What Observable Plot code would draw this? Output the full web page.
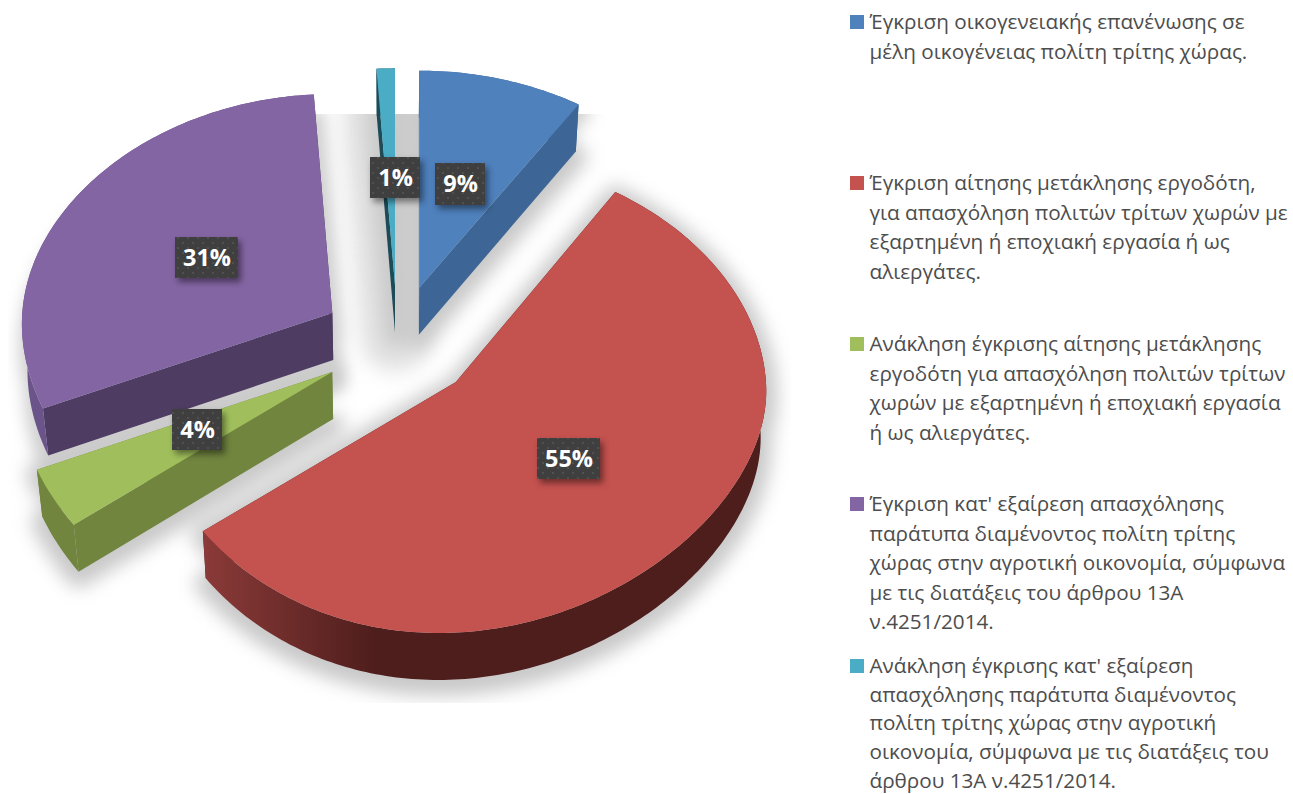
<!DOCTYPE html>
<html>
<head>
<meta charset="utf-8">
<script src="https://cdn.jsdelivr.net/npm/d3@7"></script>
<script src="https://cdn.jsdelivr.net/npm/@observablehq/plot@0.6"></script>
<style>html,body{margin:0;padding:0;background:#fff}svg{display:block}</style>
</head>
<body>
<div id="chart"></div>
<script>
// Data
const categories = [
  "Έγκριση οικογενειακής επανένωσης σε\nμέλη οικογένειας πολίτη τρίτης χώρας.",
  "Έγκριση αίτησης μετάκλησης εργοδότη,\nγια απασχόληση πολιτών τρίτων χωρών με\nεξαρτημένη ή εποχιακή εργασία ή ως\nαλιεργάτες.",
  "Ανάκληση έγκρισης αίτησης μετάκλησης\nεργοδότη για απασχόληση πολιτών τρίτων\nχωρών με εξαρτημένη ή εποχιακή εργασία\nή ως αλιεργάτες.",
  "Έγκριση κατ' εξαίρεση απασχόλησης\nπαράτυπα διαμένοντος πολίτη τρίτης\nχώρας στην αγροτική οικονομία, σύμφωνα\nμε τις διατάξεις του άρθρου 13Α\nν.4251/2014.",
  "Ανάκληση έγκρισης κατ' εξαίρεση\nαπασχόλησης παράτυπα διαμένοντος\nπολίτη τρίτης χώρας στην αγροτική\nοικονομία, σύμφωνα με τις διατάξεις του\nάρθρου 13Α ν.4251/2014."
];
const values = [9, 55, 4, 31, 1];

// Styles and layout
const faceColors = ["#4f81bd", "#c4524f", "#a0bf5c", "#8365a3", "#4bacc6"];
const sideColors = ["#3d6696", "#4e1e1c", "#71853f", "#4e3c62", "#1d4b57"];
const rimColors  = ["#3d6696", "url(#redRim)", "#71853f", "#6b5489", "#1d4b57"];
const explodeX   = [0.28, 0.262, 0.240, 0.235, 0];
const explodeY   = [0.262, 0.262, 0.240, 0.27, 0.262];
const radiusK    = [1, 1, 1.02, 1, 1];
const backB      = [217, 225, 217, 219, 217];
const swatchTop  = [15, 176, 337, 497, 659];
const textTop    = [8, 169, 330, 490, 652];
const labelCentre = [[460, 184], [568.5, 458.5], [197, 429.5], [206.5, 257.5], [395, 177.5]];
const labelSize   = [[50, 42], [63, 41], [50, 41], [63, 41], [50, 41]];

const W = 1293, H = 794;
const cx = 394.5, cy = 343, a = 310, bExplode = 222, bFront = 205, bCurve = 46,
      p = 0.048, depth = 47, skew = -17;

const project = (u, v, eu, ev, down, bBack) => {
  let x = cx + a * eu + a * u * (1 + p * v) + (v > 0 ? skew * v * v : 0);
  let y = cy + bExplode * ev + (v >= 0 ? v * (bFront + bCurve * v) : v * bBack);
  if (down) { x = cx + (x - cx) * 0.985; y += depth; }
  return [x, y];
};

const arcs = d3.pie().sort(null)(values);
const polys = [];
arcs.forEach((arc, i) => {
  const mid = (arc.startAngle + arc.endAngle) / 2;
  const eu = explodeX[i] * Math.sin(mid), ev = -explodeY[i] * Math.cos(mid);
  const n = Math.max(4, Math.ceil((arc.endAngle - arc.startAngle) * 60));
  const rim = d3.range(n + 1).map(k => {
    const t = arc.startAngle + (arc.endAngle - arc.startAngle) * k / n;
    return [radiusK[i] * Math.sin(t), -radiusK[i] * Math.cos(t)];
  });
  const top = ([u, v]) => project(u, v, eu, ev, false, backB[i]);
  const low = ([u, v]) => project(u, v, eu, ev, true, backB[i]);
  const centre = [0, 0];
  const add = (part, color, pts) => pts.forEach(([x, y], k) =>
    polys.push({id: `${part}-${i}`, part, color, x, y, k, slice: i}));
  const first = rim[0], last = rim[n];
  const wall1 = [top(centre), low(centre), low(first), top(first)];
  const wall2 = [top(centre), low(centre), low(last), top(last)];
  const rimWall = [...rim.map(top), ...rim.slice().reverse().map(low)];
  const face = [top(centre), ...rim.map(top)];
  add("shadow", "#c9c9c9", [low(centre), ...rim.map(low)]);
  add("shadow2", "#c9c9c9", face);
  add("wall1", sideColors[i], wall1);
  add("wall2", sideColors[i], wall2);
  add("rim", rimColors[i], rimWall);
  add("face", faceColors[i], face);
});
const layer = f => polys.filter(d => f(d.part));
const shadowRows = layer(p => p === "shadow" || p === "shadow2");

const labels = values.map((v, i) => ({
  text: `${v}%`,
  x: labelCentre[i][0], y: labelCentre[i][1],
  x1: labelCentre[i][0] - labelSize[i][0] / 2, x2: labelCentre[i][0] + labelSize[i][0] / 2,
  y1: labelCentre[i][1] - labelSize[i][1] / 2, y2: labelCentre[i][1] + labelSize[i][1] / 2
}));
const legend = categories.map((text, i) => ({
  text, color: faceColors[i], y: textTop[i], x1: 850, x2: 864, y1: swatchTop[i], y2: swatchTop[i] + 14
}));
const masks = [
  {x1: 0, x2: W, y1: 0, y2: 114},
  {x1: 0, x2: W, y1: 703, y2: H},
  {x1: 791, x2: W, y1: 0, y2: H},
  {x1: 0, x2: 8, y1: 0, y2: H}
];

const defs = () => {
  const g = d3.create("svg:defs");
  const lg = g.append("linearGradient").attr("id", "redRim")
    .attr("gradientUnits", "userSpaceOnUse")
    .attr("x1", 205).attr("x2", 375).attr("y1", 0).attr("y2", 0);
  lg.append("stop").attr("offset", "0").attr("stop-color", "#8a3a38");
  lg.append("stop").attr("offset", "1").attr("stop-color", "#4e1e1c");
  const pt = g.append("pattern").attr("id", "dots")
    .attr("patternUnits", "userSpaceOnUse").attr("width", 10).attr("height", 10);
  pt.append("rect").attr("width", 10).attr("height", 10).attr("fill", "#3f3f3f");
  pt.append("rect").attr("x", 2).attr("y", 2).attr("width", 2).attr("height", 2).attr("fill", "#505050");
  pt.append("rect").attr("x", 7).attr("y", 7).attr("width", 2).attr("height", 2).attr("fill", "#505050");
  return g.node();
};

const poly = (data, extra = {}) => Plot.line(data, {
  x: "x", y: "y", z: "id", fill: "color", stroke: "none", curve: "linear-closed", ...extra
});

const legendText = (data, lineHeight) => Plot.text(data, {
  x: 869, y: "y", text: "text", textAnchor: "start", lineAnchor: "top",
  lineHeight, fontSize: 20.7, fontFamily: "Open Sans", fill: "#4d4d4d"
});

const chart = Plot.plot({
  width: W, height: H,
  margin: 0,
  x: {domain: [0, W], range: [0, W], axis: null},
  y: {domain: [0, H], range: [0, H], axis: null},
  color: {type: "identity"},
  style: {background: "#fff"},
  marks: [
    defs,
    poly(shadowRows.filter(d => d.slice === 4), {
      fill: "#e3e3e3", stroke: "#e3e3e3", strokeWidth: 70, strokeLinejoin: "round", imageFilter: "blur(10px)", dy: 5
    }),
    poly(shadowRows.filter(d => d.slice === 3), {
      fill: "#cfcfcf", stroke: "#cfcfcf", strokeWidth: 14, strokeLinejoin: "round", imageFilter: "blur(8px)", dx: 4, dy: 22
    }),
    poly(shadowRows.filter(d => d.slice !== 3), {
      stroke: "color", strokeWidth: 22, strokeLinejoin: "round", imageFilter: "blur(9px)", dy: 5
    }),
    Plot.rect(masks, {x1: "x1", x2: "x2", y1: "y1", y2: "y2", fill: "#fff"}),
    poly(layer(p => p === "wall1" || p === "wall2")),
    poly(layer(p => p === "rim")),
    poly(layer(p => p === "face")),
    Plot.rect(labels, {
      x1: "x1", x2: "x2", y1: "y1", y2: "y2", fill: "url(#dots)",
      imageFilter: "drop-shadow(3px 4px 3px rgba(0,0,0,.45))"
    }),
    Plot.text(labels, {
      x: "x", y: "y", text: "text", fill: "#fff", fontSize: 23.5, fontWeight: 700,
      fontFamily: "Open Sans"
    }),
    Plot.rect(legend, {x1: "x1", x2: "x2", y1: "y1", y2: "y2", fill: "color"}),
    legendText(legend.slice(0, 4), 1.425),
    legendText(legend.slice(4), 1.385)
  ]
});
document.getElementById("chart").appendChild(chart);
</script>
</body>
</html>
